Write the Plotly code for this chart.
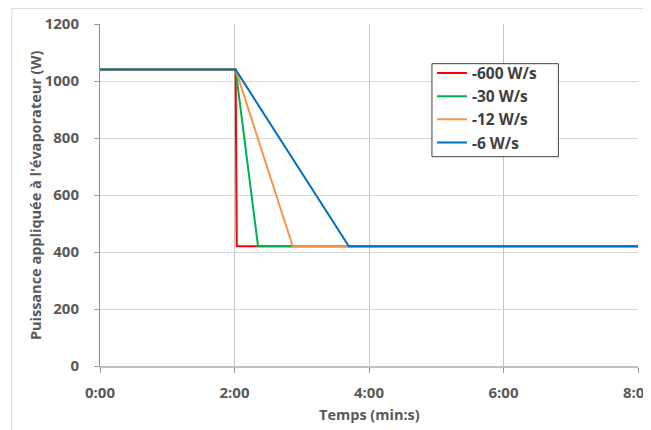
import plotly.graph_objects as go

# time in seconds, power in W
series_names = ["-600 W/s", "-30 W/s", "-12 W/s", "-6 W/s"]
series_colors = ["#FF0000", "#00B050", "#F79646", "#0070C0"]
t_600 = [0, 121, 122, 480]
p_600 = [1040, 1040, 420, 420]
t_30 = [0, 121, 141, 480]
p_30 = [1040, 1040, 420, 420]
t_12 = [0, 121, 172, 480]
p_12 = [1040, 1040, 420, 420]
t_6 = [0, 121, 222, 480]
p_6 = [1040, 1040, 420, 420]
x_tickvals = [0, 120, 240, 360, 480]
x_ticktext = ["0:00", "2:00", "4:00", "6:00", "8:00"]
y_tickvals = [0, 200, 400, 600, 800, 1000, 1200]
x_title = "Temps (min:s)"
y_title = "Puissance appliquée à l'évaporateur (W)"

fig = go.Figure()
data = [(t_600, p_600), (t_30, p_30), (t_12, p_12), (t_6, p_6)]
for (t, p), name, color in zip(data, series_names, series_colors):
    fig.add_trace(go.Scatter(x=t, y=p, mode="lines", name=name,
                             line=dict(color=color, width=2)))

font_fam = "Open Sans, Liberation Sans, sans-serif"
txt_col = "#595959"

fig.update_layout(
    width=643, height=422,
    margin=dict(l=92, r=13, t=16, b=64, autoexpand=False),
    paper_bgcolor="white", plot_bgcolor="white",
    showlegend=True,
    legend=dict(x=0.617, y=0.905, xanchor="left", yanchor="top",
                bgcolor="rgba(0,0,0,0)", borderwidth=0,
                font=dict(family=font_fam, size=15.5, color="#404040", weight="bold"),
                itemwidth=30, tracegroupgap=0),
    font=dict(family=font_fam),
    shapes=[
        dict(type="rect", xref="paper", yref="paper",
             x0=-0.164, x1=1.06, y0=-0.3, y1=1.045,
             line=dict(color="#d9d9d9", width=1), layer="below"),
        dict(type="rect", xref="paper", yref="paper",
             x0=0.617, x1=0.852, y0=0.612, y1=0.884,
             fillcolor="white", line=dict(color="#404040", width=1), layer="above"),
    ],
    annotations=[
        dict(text=x_title, xref="paper", yref="paper", x=0.5, y=-0.1405,
             xanchor="center", yanchor="middle", showarrow=False,
             font=dict(family=font_fam, size=14.5, color=txt_col, weight="bold")),
        dict(text=y_title, xref="paper", yref="paper", x=-0.1206, y=0.5,
             xanchor="center", yanchor="middle", showarrow=False, textangle=-90,
             font=dict(family=font_fam, size=14.5, color=txt_col, weight="bold")),
    ],
)
fig.update_xaxes(range=[0, 480], tickvals=x_tickvals, ticktext=x_ticktext,
                 automargin=False, ticklabeloverflow="allow",
                 showgrid=True, gridcolor="#c4c4c4", gridwidth=1,
                 showline=True, linecolor="#bfbfbf", linewidth=2,
                 ticks="outside", ticklen=5, tickcolor="#9a9a9a",
                 ticklabelstandoff=7,
                 tickfont=dict(family=font_fam, size=15, color=txt_col, weight="bold"),
                 zeroline=False)
fig.update_yaxes(range=[0, 1200], tickvals=y_tickvals,
                 automargin=False,
                 showgrid=True, gridcolor="#d9d9d9", gridwidth=1,
                 showline=True, linecolor="#8c8c8c", linewidth=1,
                 ticks="outside", ticklen=5, tickcolor="#9a9a9a",
                 ticklabelstandoff=12,
                 tickfont=dict(family=font_fam, size=15, color=txt_col, weight="bold"),
                 zeroline=False)
fig.write_html("out.html")
